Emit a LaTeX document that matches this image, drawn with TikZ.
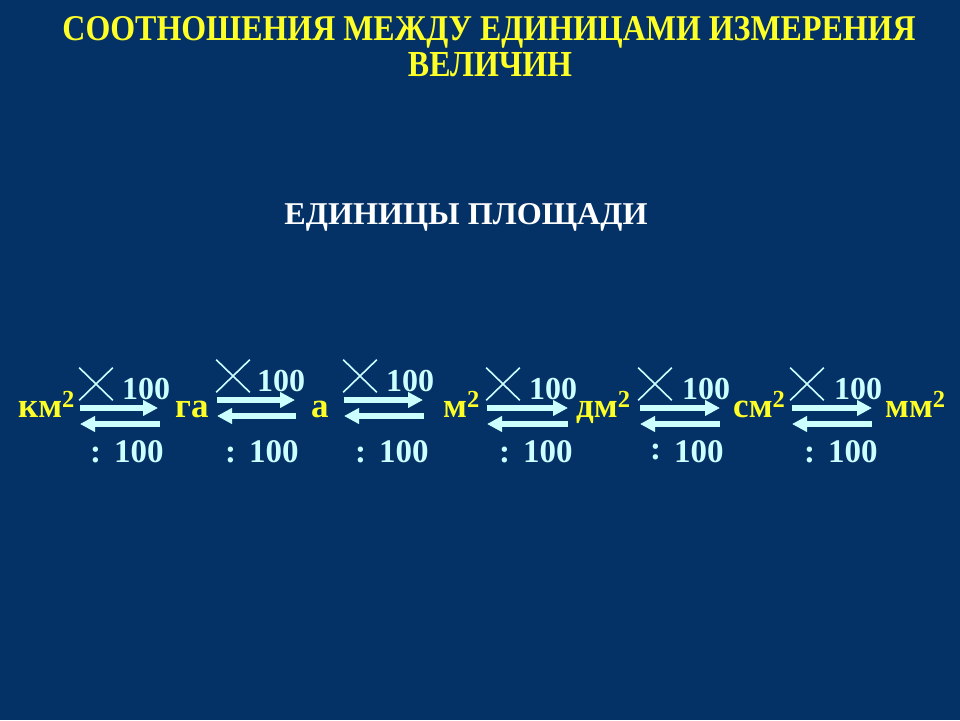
\documentclass[tikz,border=0pt]{standalone}
\usepackage{fontspec}
\setmainfont{Liberation Serif}
\usetikzlibrary{arrows.meta,shapes.misc}

\definecolor{slidebg}{RGB}{4,50,102}
\definecolor{unityellow}{RGB}{255,255,40}
\definecolor{lightcyan}{RGB}{204,255,255}

\begin{document}
\begin{tikzpicture}[x=1pt,y=-1pt]

    \tikzset{unitstyle/.style={anchor=base west,inner sep=0,text=unityellow,font=\fontsize{35}{35}\selectfont\bfseries},
             topnum/.style={anchor=base west,inner sep=0,text=lightcyan,font=\fontsize{32}{32}\selectfont\bfseries},
             botnum/.style={anchor=base west,inner sep=0,text=lightcyan,font=\fontsize{33}{33}\selectfont\bfseries},
             crossstyle/.style={cross out,draw=lightcyan,line width=1.6pt,minimum width=32pt,minimum height=31pt,inner sep=0},
             arrowstyle/.style={draw=lightcyan,line width=6pt,-{Triangle[length=15pt,width=15pt]}}}

    \fill[slidebg] (0,0) rectangle (960,720);
    \useasboundingbox (0,0) rectangle (960,720);

    % titles
    \node[anchor=base,inner sep=0,text=unityellow,font=\bfseries] (title1) at (489,40)
        {\resizebox{853pt}{24pt}{СООТНОШЕНИЯ МЕЖДУ ЕДИНИЦАМИ ИЗМЕРЕНИЯ}};
    \node[anchor=base,inner sep=0,text=unityellow,font=\bfseries] (title2) at (490,76)
        {\resizebox{164pt}{24pt}{ВЕЛИЧИН}};
    \node[anchor=base,inner sep=0,text=white,font=\bfseries] (sub) at (466,224)
        {\resizebox{363pt}{21pt}{ЕДИНИЦЫ ПЛОЩАДИ}};

    % units
    \node[unitstyle] (km) at (18,417) {км\textsuperscript{2}};
    \node[unitstyle] (ga) at (175,417) {га};
    \node[unitstyle] (a)  at (311,417) {а};
    \node[unitstyle] (m)  at (443,417) {м\textsuperscript{2}};
    \node[unitstyle] (dm) at (576,417) {дм\textsuperscript{2}};
    \node[unitstyle] (cm) at (733,417) {см\textsuperscript{2}};
    \node[unitstyle] (mm) at (885,417) {мм\textsuperscript{2}};

    % multiply signs
    \node[crossstyle] (x1) at (96,384) {};
    \node[crossstyle] (x2) at (233,376) {};
    \node[crossstyle] (x3) at (360,376) {};
    \node[crossstyle] (x4) at (503,384) {};
    \node[crossstyle] (x5) at (655,384) {};
    \node[crossstyle] (x6) at (807,384) {};

    \node[topnum] (t1) at (122,399) {100};
    \node[topnum] (t2) at (257,391) {100};
    \node[topnum] (t3) at (386,391) {100};
    \node[topnum] (t4) at (529,399) {100};
    \node[topnum] (t5) at (682,399) {100};
    \node[topnum] (t6) at (834,399) {100};

    % division
    \node[botnum] (d1) at (90,462) {:\hspace{13pt}100};
    \node[botnum] (d2) at (225,462) {:\hspace{13pt}100};
    \node[botnum] (d3) at (355,462) {:\hspace{13pt}100};
    \node[botnum] (d4) at (499,462) {:\hspace{13pt}100};
    \node[botnum] (d5) at (650,462) {\raisebox{3pt}{:}\hspace{13pt}100};
    \node[botnum] (d6) at (804,462) {:\hspace{13pt}100};

    % arrow ends
    \coordinate (r1a) at (80,408);  \coordinate (r1b) at (158,408);
    \coordinate (l1a) at (160,424); \coordinate (l1b) at (80,424);
    \coordinate (r2a) at (217,400); \coordinate (r2b) at (295,400);
    \coordinate (l2a) at (296,416); \coordinate (l2b) at (217,416);
    \coordinate (r3a) at (344,400); \coordinate (r3b) at (423,400);
    \coordinate (l3a) at (424,416); \coordinate (l3b) at (344,416);
    \coordinate (r4a) at (487,408); \coordinate (r4b) at (568,408);
    \coordinate (l4a) at (568,424); \coordinate (l4b) at (487,424);
    \coordinate (r5a) at (640,408); \coordinate (r5b) at (720,408);
    \coordinate (l5a) at (720,424); \coordinate (l5b) at (640,424);
    \coordinate (r6a) at (792,408); \coordinate (r6b) at (872,408);
    \coordinate (l6a) at (872,424); \coordinate (l6b) at (792,424);

    \draw[arrowstyle] (r1a) -- (r1b);
    \draw[arrowstyle] (l1a) -- (l1b);
    \draw[arrowstyle] (r2a) -- (r2b);
    \draw[arrowstyle] (l2a) -- (l2b);
    \draw[arrowstyle] (r3a) -- (r3b);
    \draw[arrowstyle] (l3a) -- (l3b);
    \draw[arrowstyle] (r4a) -- (r4b);
    \draw[arrowstyle] (l4a) -- (l4b);
    \draw[arrowstyle] (r5a) -- (r5b);
    \draw[arrowstyle] (l5a) -- (l5b);
    \draw[arrowstyle] (r6a) -- (r6b);
    \draw[arrowstyle] (l6a) -- (l6b);

\end{tikzpicture}
\end{document}
